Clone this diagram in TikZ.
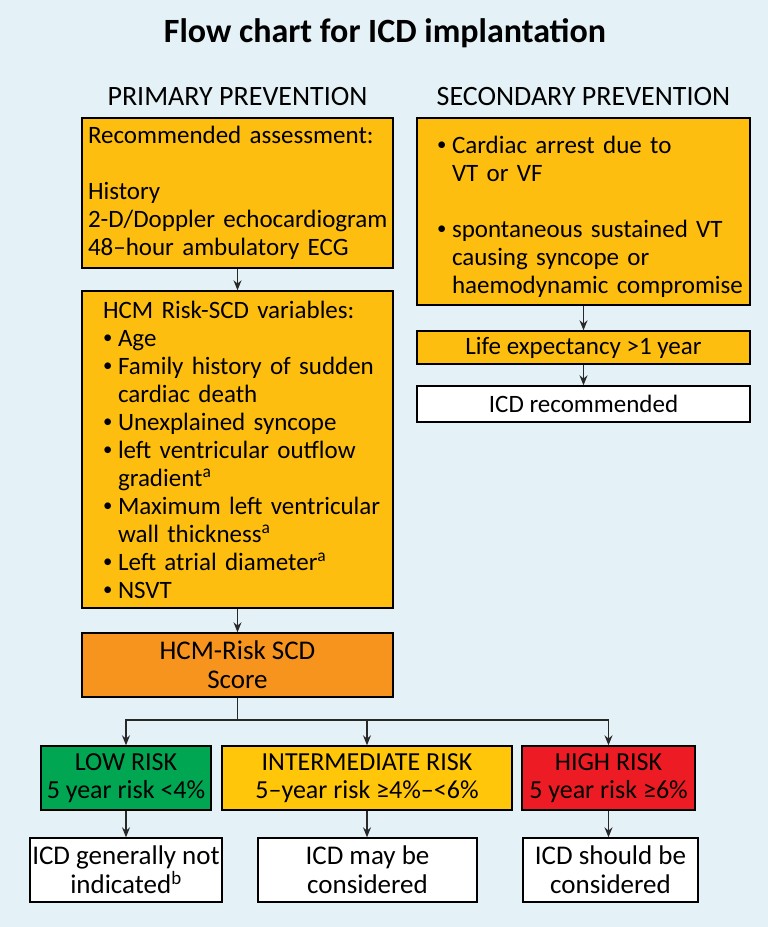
\documentclass[tikz,border=0pt]{standalone}
\usepackage{fontspec}
\usepackage{graphicx}
\setmainfont{Carlito}
\usetikzlibrary{positioning,arrows.meta,backgrounds}
\definecolor{paneBg}{RGB}{228,242,248}
\definecolor{amber}{RGB}{253,190,16}
\definecolor{scoreOrange}{RGB}{247,148,29}
\definecolor{lowGreen}{RGB}{0,166,81}
\definecolor{midYellow}{RGB}{255,198,10}
\definecolor{highRed}{RGB}{237,28,36}
\definecolor{edgeDark}{RGB}{40,40,40}
\setlength\parindent{0pt}
\hbadness=10000 \hfuzz=100pt
% bullet item, lines kept whole
\newcommand\bitem[1]{\par\hangindent=15pt\hangafter=1\noindent
  \makebox[15pt][l]{\raisebox{0.12em}{\scalebox{0.75}{\textbullet}}}#1}

\begin{document}
\begin{tikzpicture}[x=1pt,y=-1pt,
  font=\fontsize{25}{28}\selectfont,
  box/.style={draw=black,line width=1.4pt,fill=amber,minimum width=311pt,
              inner sep=0pt},
  outbox/.style={draw=black,line width=1.4pt,fill=white,minimum height=64pt,
                 align=center,inner sep=0pt,font=\fontsize{27}{29}\selectfont},
  riskbox/.style={draw=black,line width=1.4pt,minimum height=64pt,
                  align=center,inner sep=0pt,font=\fontsize{26}{28}\selectfont},
  arr/.style={-{Stealth[length=10pt,width=8pt]},line width=1.1pt,draw=edgeDark},
  link/.style={line width=1.1pt,draw=edgeDark}
]

% ---- columns ----
\def\xP{237.5}   % primary prevention
\def\xS{583.5}   % secondary prevention

% ---- page ----
\fill[paneBg] (0,0) rectangle (768,927);

% ---- headings ----
\node[font=\fontsize{34}{38}\selectfont\bfseries] (title) at (385,33)
  {Flow chart for ICD implantation};
\node[font=\fontsize{28}{32}\selectfont] (hPri) at (\xP,97) {PRIMARY PREVENTION};
\node[font=\fontsize{28}{32}\selectfont] (hSec) at (\xS,97) {SECONDARY PREVENTION};

% ========================================================
%  Primary prevention
% ========================================================
\node[box,minimum height=150pt,text width=299pt,align=left] (assess) at (\xP,193)
  {\mbox{Recommended assessment:}\\[28pt]
   History\\\mbox{2-D/Doppler echocardiogram}\\\mbox{48--hour ambulatory ECG}};

\node[box,minimum height=317pt,text width=269pt,align=left] (vars) at (\xP,449.5)
  {\mbox{HCM Risk-SCD variables:}
   \bitem{Age}
   \bitem{\mbox{Family history of sudden}\newline\mbox{cardiac death}}
   \bitem{\mbox{Unexplained syncope}}
   \bitem{\mbox{left ventricular outflow}\newline\mbox{gradient\textsuperscript{a}}}
   \bitem{\mbox{Maximum left ventricular}\newline\mbox{wall thickness\textsuperscript{a}}}
   \bitem{\mbox{Left atrial diameter\textsuperscript{a}}}
   \bitem{NSVT}\par};

\node[box,fill=scoreOrange,minimum height=64pt,align=center,
      font=\fontsize{27}{29}\selectfont] (score) at (\xP,665)
  {HCM-Risk SCD\\Score};

% ---- risk classes ----
\node[riskbox,fill=lowGreen,minimum width=170pt] (low) at (126,778)
  {LOW RISK\\5 year risk <4\%};
\node[riskbox,fill=midYellow,minimum width=290pt] (mid) at (367,778)
  {INTERMEDIATE RISK\\5--year risk ≥4\%--<6\%};
\node[riskbox,fill=highRed,minimum width=173pt] (high) at (608.5,778)
  {HIGH RISK\\5 year risk ≥6\%};

\node[outbox,minimum width=192pt] (lowOut) at (126,870)
  {ICD generally not\\indicated\textsuperscript{b}};
\node[outbox,minimum width=219pt] (midOut) at (367.5,870)
  {ICD may be\\considered};
\node[outbox,minimum width=175pt] (highOut) at (610.5,870)
  {ICD should be\\considered};

\draw[arr] (assess) -- (vars);
\draw[arr] (vars) -- (score);
\coordinate (split) at (\xP,720);
\draw[link] (score) -- (split);
\draw[arr] (split) -| (low);
\draw[arr] (split) -| (mid);
\draw[arr] (split) -| (high);
\draw[arr] (low) -- (lowOut);
\draw[arr] (mid.south) -- (mid.south |- midOut.north);
\draw[arr] (high.south) -- (high.south |- highOut.north);

% ========================================================
%  Secondary prevention
% ========================================================
\node[box,minimum width=333pt,minimum height=187pt,text width=293pt,align=left] (cause) at (\xS,211.5)
  {\bitem{\mbox{Cardiac arrest due to}\newline\mbox{VT or VF}}\par\vspace{28pt}
   \bitem{\mbox{spontaneous sustained VT}\newline\mbox{causing syncope or}\newline
          \mbox{haemodynamic compromise}}\par};

\node[box,minimum width=333pt,minimum height=33pt] (life) at (\xS,347.5)
  {Life expectancy >1 year};
\node[box,fill=white,minimum width=333pt,minimum height=36pt] (icd) at (\xS,404)
  {ICD recommended};

\draw[arr] (cause) -- (life);
\draw[arr] (life) -- (icd);

\end{tikzpicture}
\end{document}
